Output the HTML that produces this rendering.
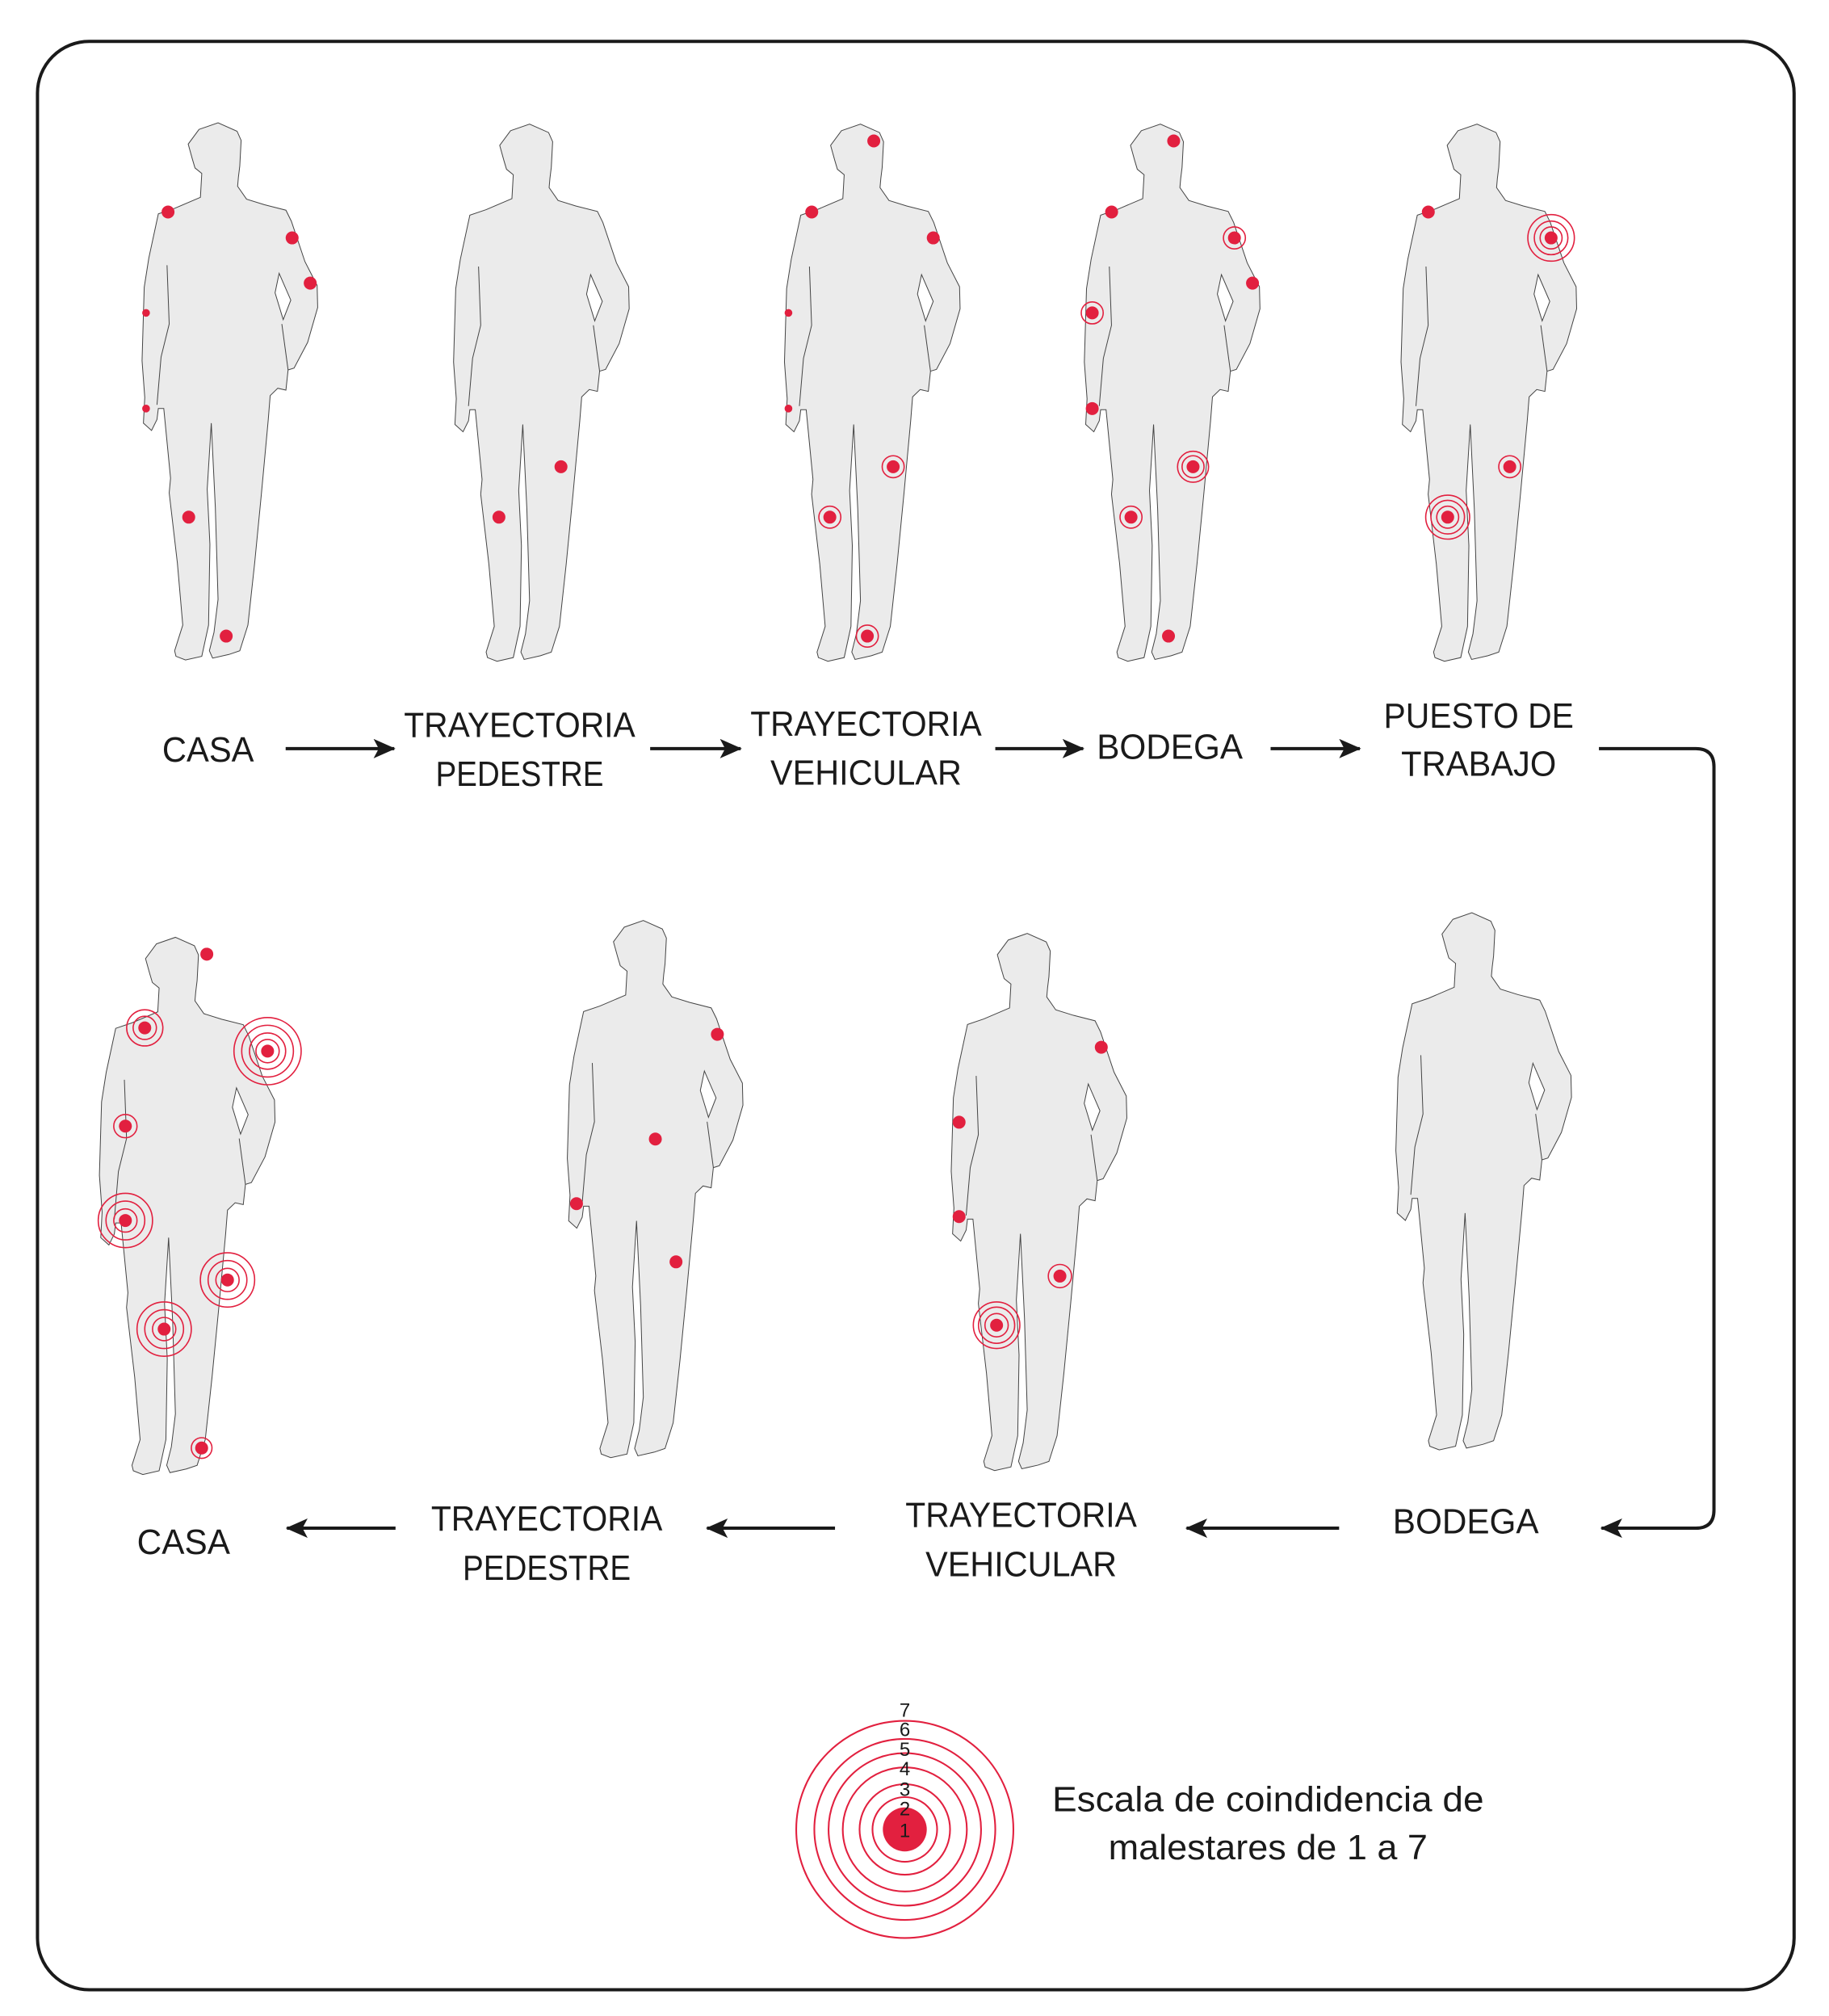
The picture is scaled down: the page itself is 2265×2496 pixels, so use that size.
<!DOCTYPE html>
<html><head><meta charset="utf-8"><style>html,body{margin:0;padding:0;background:#fff}svg{display:block}</style></head>
<body>
<svg width="2265" height="2496" viewBox="0 0 1415 1559.3" xmlns="http://www.w3.org/2000/svg">
<defs>
<g id="fig">
<g transform="translate(93.1,78.2) scale(0.21,0.284)">
<path d="M290,70 L360,52 L430,75 L445,100 L440,170 L435,200 L432,225 L465,260 L530,275 L610,290 L630,320 L680,430 L725,495 L727,555 L690,650 L640,720 L618,725 L610,780 L580,775 L552,795 L545,860 L520,1060 L495,1250 L470,1420 L440,1490 L400,1500 L340,1510 L328,1490 L345,1440 L360,1350 L350,1100 L335,870 L320,1050 L330,1200 L325,1420 L300,1505 L240,1515 L205,1505 L200,1490 L230,1420 L210,1250 L180,1060 L185,1020 L160,830 L140,830 L135,860 L115,890 L85,870 L90,800 L80,700 L88,500 L105,420 L140,300 L200,285 L295,255 L300,190 L275,175 L265,150 L250,110 Z" fill="#ebebeb" stroke="#444" stroke-width="1" vector-effect="non-scaling-stroke"/>
<path d="M585,462 L628,535 L600,588 L570,515 Z" fill="#fff" stroke="#444" stroke-width="1" vector-effect="non-scaling-stroke"/>
<path d="M172,440 L180,600 L150,690 L135,820" fill="none" stroke="#444" stroke-width="1" vector-effect="non-scaling-stroke"/>
<path d="M595,600 L618,725" fill="none" stroke="#444" stroke-width="1" vector-effect="non-scaling-stroke"/>
</g>
</g>
<marker id="ah" markerWidth="17" markerHeight="15" refX="16" refY="7.5" orient="auto" markerUnits="userSpaceOnUse" viewBox="0 0 17 15">
<path d="M0,0 L17,7.5 L0,15 L4,7.5 Z" fill="#1a1a1a"/>
</marker>
</defs>
<rect x="29" y="32" width="1359" height="1507" rx="40" ry="40" fill="#fff" stroke="#1a1a1a" stroke-width="2.5"/>

<use href="#fig" transform="translate(0,2)"/>
<use href="#fig" transform="translate(241,3)"/>
<use href="#fig" transform="translate(497,3)"/>
<use href="#fig" transform="translate(729,3)"/>
<use href="#fig" transform="translate(974,3)"/>
<use href="#fig" transform="translate(-33,632)"/>
<use href="#fig" transform="translate(329,619)"/>
<use href="#fig" transform="translate(626,629)"/>
<use href="#fig" transform="translate(970,613)"/>

<g fill="#e2203f">
<circle cx="130" cy="164" r="5"/><circle cx="226" cy="184" r="5"/><circle cx="240" cy="219" r="5"/><circle cx="113" cy="242" r="3"/><circle cx="113" cy="316" r="3"/><circle cx="146" cy="400" r="5"/><circle cx="175" cy="492" r="5"/>
<circle cx="434" cy="361" r="5"/><circle cx="386" cy="400" r="5"/>
<circle cx="676" cy="109" r="5"/><circle cx="628" cy="164" r="5"/><circle cx="722" cy="184" r="5"/><circle cx="610" cy="242" r="3"/><circle cx="610" cy="316" r="3"/><circle cx="691" cy="361" r="5"/><circle cx="642" cy="400" r="5"/><circle cx="671" cy="492" r="5"/>
<circle cx="908" cy="109" r="5"/><circle cx="860" cy="164" r="5"/><circle cx="955" cy="184" r="5"/><circle cx="969" cy="219" r="5"/><circle cx="845" cy="242" r="5"/><circle cx="845" cy="316" r="5"/><circle cx="923" cy="361" r="5"/><circle cx="875" cy="400" r="5"/><circle cx="904" cy="492" r="5"/>
<circle cx="1105" cy="164" r="5"/><circle cx="1200" cy="184" r="5"/><circle cx="1168" cy="361" r="5"/><circle cx="1120" cy="400" r="5"/>
<circle cx="160" cy="738" r="5"/><circle cx="112" cy="795" r="5"/><circle cx="207" cy="813" r="5"/><circle cx="97" cy="871" r="5"/><circle cx="97" cy="944" r="5"/><circle cx="176" cy="990" r="5"/><circle cx="127" cy="1028" r="5"/><circle cx="156" cy="1120" r="5"/>
<circle cx="555" cy="800" r="5"/><circle cx="507" cy="881" r="5"/><circle cx="446" cy="931" r="5"/><circle cx="523" cy="976" r="5"/>
<circle cx="852" cy="810" r="5"/><circle cx="742" cy="868" r="5"/><circle cx="742" cy="941" r="5"/><circle cx="820" cy="987" r="5"/><circle cx="771" cy="1025" r="5"/>
</g>
<g fill="none" stroke="#e2203f" stroke-width="1">
<circle cx="691" cy="361" r="8.5"/><circle cx="642" cy="400" r="8.5"/><circle cx="671" cy="492" r="8.5"/>
<circle cx="955" cy="184" r="8.5"/><circle cx="845" cy="242" r="8.5"/><circle cx="923" cy="361" r="8.5"/><circle cx="923" cy="361" r="12"/><circle cx="875" cy="400" r="8.5"/>
<circle cx="1200" cy="184" r="8.5"/><circle cx="1200" cy="184" r="13"/><circle cx="1200" cy="184" r="18"/>
<circle cx="1168" cy="361" r="8.5"/><circle cx="1120" cy="400" r="8.5"/><circle cx="1120" cy="400" r="13"/><circle cx="1120" cy="400" r="17"/>
<circle cx="112" cy="795" r="9"/><circle cx="112" cy="795" r="14"/>
<circle cx="207" cy="813" r="9"/><circle cx="207" cy="813" r="14"/><circle cx="207" cy="813" r="20"/><circle cx="207" cy="813" r="26"/>
<circle cx="97" cy="871" r="9"/>
<circle cx="97" cy="944" r="9"/><circle cx="97" cy="944" r="15"/><circle cx="97" cy="944" r="21"/>
<circle cx="176" cy="990" r="9"/><circle cx="176" cy="990" r="15"/><circle cx="176" cy="990" r="21"/>
<circle cx="127" cy="1028" r="9"/><circle cx="127" cy="1028" r="15"/><circle cx="127" cy="1028" r="21"/>
<circle cx="156" cy="1120" r="8"/>
<circle cx="820" cy="987" r="9"/><circle cx="771" cy="1025" r="9"/><circle cx="771" cy="1025" r="14"/><circle cx="771" cy="1025" r="18"/>
</g>

<g stroke="#1a1a1a" stroke-width="2.5" fill="none" marker-end="url(#ah)">
<line x1="221" y1="579" x2="305" y2="579"/>
<line x1="503" y1="579" x2="573" y2="579"/>
<line x1="770" y1="579" x2="838" y2="579"/>
<line x1="983" y1="579" x2="1052" y2="579"/>
<path d="M1237,579 L1312,579 Q1326,579 1326,593 L1326,1168 Q1326,1182 1312,1182 L1239,1182"/>
<line x1="1036" y1="1182" x2="918" y2="1182"/>
<line x1="646" y1="1182" x2="547" y2="1182"/>
<line x1="306" y1="1182" x2="222" y2="1182"/>
</g>

<g font-family="'Liberation Sans', sans-serif" font-size="27" fill="#1a1a1a" text-anchor="middle">
<text x="161" y="589" textLength="71" lengthAdjust="spacingAndGlyphs">CASA</text>
<text x="402" y="570" textLength="179" lengthAdjust="spacingAndGlyphs">TRAYECTORIA</text>
<text x="402" y="608" textLength="130" lengthAdjust="spacingAndGlyphs">PEDESTRE</text>
<text x="670" y="569" textLength="179" lengthAdjust="spacingAndGlyphs">TRAYECTORIA</text>
<text x="670" y="607" textLength="148" lengthAdjust="spacingAndGlyphs">VEHICULAR</text>
<text x="905" y="587" textLength="113" lengthAdjust="spacingAndGlyphs">BODEGA</text>
<text x="1144" y="563" textLength="147" lengthAdjust="spacingAndGlyphs">PUESTO DE</text>
<text x="1144" y="600" textLength="120" lengthAdjust="spacingAndGlyphs">TRABAJO</text>
<text x="142" y="1202" textLength="72" lengthAdjust="spacingAndGlyphs">CASA</text>
<text x="423" y="1184" textLength="179" lengthAdjust="spacingAndGlyphs">TRAYECTORIA</text>
<text x="423" y="1222" textLength="130" lengthAdjust="spacingAndGlyphs">PEDESTRE</text>
<text x="790" y="1181" textLength="179" lengthAdjust="spacingAndGlyphs">TRAYECTORIA</text>
<text x="790" y="1219" textLength="148" lengthAdjust="spacingAndGlyphs">VEHICULAR</text>
<text x="1134" y="1186" textLength="113" lengthAdjust="spacingAndGlyphs">BODEGA</text>
<text x="981" y="1401" textLength="334" lengthAdjust="spacingAndGlyphs">Escala de coindidencia de</text>
<text x="981" y="1438" textLength="247" lengthAdjust="spacingAndGlyphs">malestares de 1 a 7</text>
</g>

<circle cx="700" cy="1415" r="17" fill="#e2203f"/>
<g fill="none" stroke="#e2203f" stroke-width="1.3">
<circle cx="700" cy="1415" r="25"/><circle cx="700" cy="1415" r="35"/><circle cx="700" cy="1415" r="48"/><circle cx="700" cy="1415" r="59"/><circle cx="700" cy="1415" r="70"/><circle cx="700" cy="1415" r="84"/>
</g>
<g font-family="'Liberation Sans', sans-serif" font-size="15" fill="#1a1a1a" text-anchor="middle">
<text x="700" y="1421">1</text><text x="700" y="1404">2</text><text x="700" y="1389">3</text><text x="700" y="1373">4</text><text x="700" y="1358">5</text><text x="700" y="1343">6</text><text x="700" y="1328">7</text>
</g>
</svg>
</body></html>
